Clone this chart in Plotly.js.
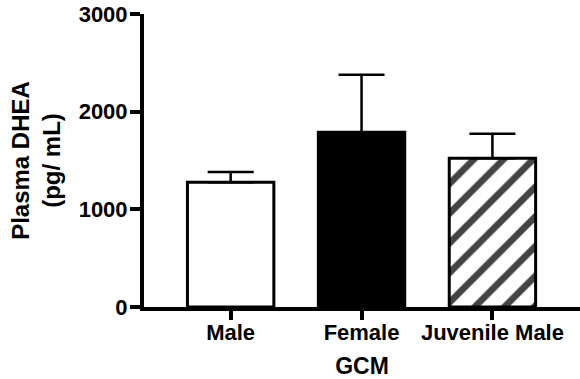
<!DOCTYPE html>
<html>
<head>
<meta charset="utf-8">
<script src="https://cdn.plot.ly/plotly-3.0.1.min.js"></script>
<style>html,body{margin:0;padding:0;background:#fff;}#chart{width:580px;height:379px;}</style>
</head>
<body>
<div id="chart"></div>
<script>
const categories = ["Male", "Female", "Juvenile Male"];
const meanValues = [1278, 1790, 1523];
const semValues = [105, 587, 250];
const barColors = ["white", "black", "white"];
const barPatterns = ["", "", "/"];
const yTickValues = [0, 1000, 2000, 3000];

const font = {family: "Liberation Sans, Arial, sans-serif", color: "black", weight: 700};

const trace = {
  type: "bar",
  x: [0, 1, 2],
  y: meanValues,
  width: 0.66,
  marker: {
    color: barColors,
    line: {color: "black", width: 3},
    pattern: {shape: barPatterns, fgcolor: "black", fgopacity: 1, bgcolor: "white", size: 21, solidity: 0.32, fillmode: "overlay"}
  },
  error_y: {type: "data", symmetric: false, array: semValues, arrayminus: [0, 0, 0], color: "black", thickness: 2.5, width: 23},
  hoverinfo: "none"
};

const layout = {
  width: 580, height: 379,
  margin: {l: 144, r: 0, t: 14, b: 72},
  paper_bgcolor: "white", plot_bgcolor: "white",
  showlegend: false,
  font: font,
  xaxis: {
    range: [-0.662, 2.669],
    tickmode: "array", tickvals: [0, 1, 2], ticktext: categories,
    showgrid: false, zeroline: false,
    showline: true, linecolor: "black", linewidth: 4,
    ticks: "outside", ticklen: 9, tickwidth: 4, tickcolor: "black",
    ticklabelstandoff: -6,
    tickfont: Object.assign({}, font, {size: 22}),
    title: {text: "GCM", font: Object.assign({}, font, {size: 23}), standoff: 17},
    automargin: false
  },
  yaxis: {
    range: [0, 3000],
    tickmode: "array", tickvals: yTickValues,
    showgrid: false, zeroline: false,
    showline: true, linecolor: "black", linewidth: 4,
    ticks: "outside", ticklen: 10, tickwidth: 4, tickcolor: "black",
    ticklabelstandoff: -2,
    tickfont: Object.assign({}, font, {size: 22}),
    title: {text: "Plasma DHEA<br>(pg/ mL)", font: Object.assign({}, font, {size: 24}), standoff: 12},
    automargin: false
  }
};

Plotly.newPlot("chart", [trace], layout, {displayModeBar: false});
</script>
</body>
</html>
